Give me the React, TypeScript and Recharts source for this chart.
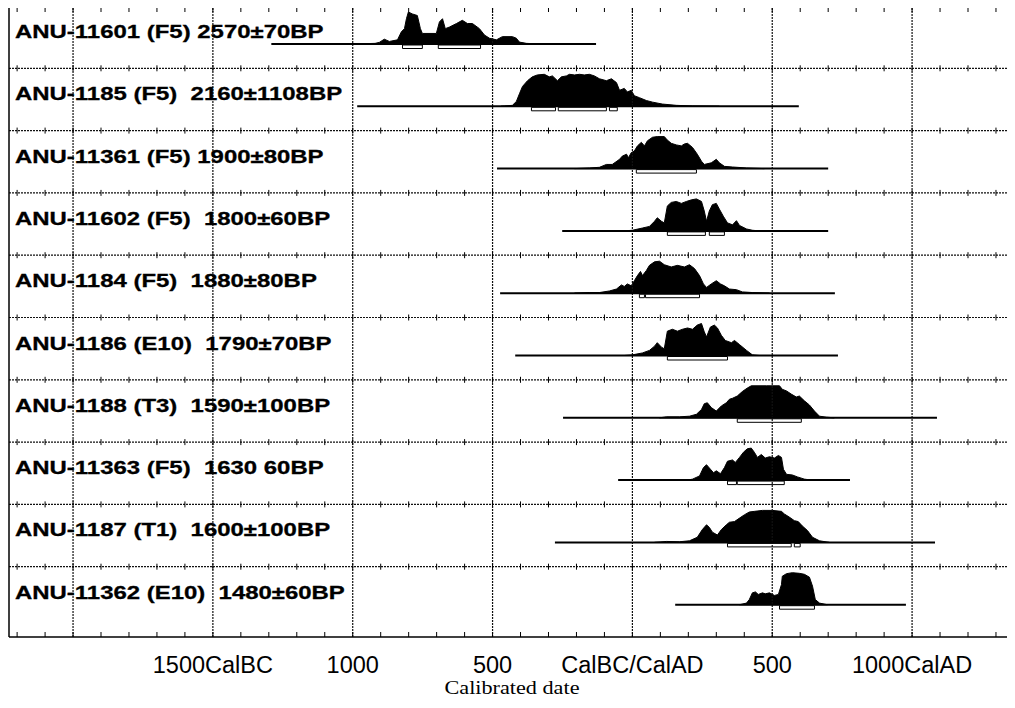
import { ComposedChart, Area, XAxis, YAxis, ReferenceLine, ReferenceArea, Scatter } from 'recharts';

// calibrated years (negative = BC), plot edges
const X_MIN = -2229;
const X_MAX = 1368;

// layout in chart units (reversed y axis, one unit ~ one pixel)
const PLOT_H = 631;
const ROW_H = 62.3;
const BASE_OFFSET = 38;
const PEAK_H = 32;

const GRID_YEARS = [-2000, -1500, -1000, -500, 0, 500, 1000];
const TICK_YEARS = Array.from({ length: 36 }, (_, i) => -2200 + i * 100);

const AXIS_LABELS: Record<number, string> = {
  [-1500]: '1500CalBC',
  [-1000]: '1000',
  [-500]: '500',
  0: 'CalBC/CalAD',
  500: '500',
  1000: '1000CalAD',
};

const SAMPLES = [
  'ANU-11601 (F5) 2570±70BP',
  'ANU-1185 (F5)  2160±1108BP',
  'ANU-11361 (F5) 1900±80BP',
  'ANU-11602 (F5)  1800±60BP',
  'ANU-1184 (F5)  1880±80BP',
  'ANU-1186 (E10)  1790±70BP',
  'ANU-1188 (T3)  1590±100BP',
  'ANU-11363 (F5)  1630 60BP',
  'ANU-1187 (T1)  1600±100BP',
  'ANU-11362 (E10)  1480±60BP',
];

// extent of the plotted baseline for each sample
const SPANS = [
  [-1291, -130], [-984, 595], [-484, 700], [-251, 700], [-473, 724],
  [-419, 735], [-248, 1089], [-51, 778], [-277, 1082], [153, 978],
];

// 68.2% ranges (boxes under the curve)
const RANGES = [
  [[-822, -751], [-694, -543]],
  [[-361, -275], [-265, -93], [-82, -54]],
  [[14, 229]],
  [[125, 261], [275, 329]],
  [[25, 43], [47, 240]],
  [[125, 340]],
  [[375, 604]],
  [[340, 372], [375, 543]],
  [[340, 568], [579, 600]],
  [[526, 651]],
];

// probability distributions: [year, relative probability]
const P_11601 = [[-1000, 0], [-920, 0.02], [-905, 0.05], [-887, 0.15], [-869, 0.08], [-840, 0.13], [-826, 0.38], [-815, 0.48], [-808, 0.79], [-801, 1.0], [-787, 0.94], [-769, 0.89], [-758, 0.48], [-751, 0.33], [-701, 0.33], [-690, 0.69], [-679, 0.79], [-669, 0.48], [-654, 0.53], [-629, 0.64], [-608, 0.74], [-590, 0.64], [-572, 0.64], [-547, 0.48], [-529, 0.28], [-511, 0.18], [-486, 0.13], [-465, 0.23], [-429, 0.23], [-415, 0.18], [-404, 0.06], [-379, 0.02], [-332, 0]];
const P_1185 = [[-470, 0], [-458, 0.01], [-429, 0.03], [-415, 0.15], [-404, 0.39], [-393, 0.62], [-375, 0.8], [-358, 0.92], [-340, 0.98], [-315, 1.0], [-297, 0.92], [-286, 0.95], [-268, 0.8], [-254, 0.92], [-236, 0.95], [-225, 1.0], [-207, 0.98], [-189, 1.0], [-172, 0.98], [-154, 1.0], [-136, 0.95], [-118, 0.86], [-93, 0.8], [-75, 0.86], [-57, 0.74], [-46, 0.5], [-29, 0.56], [-18, 0.45], [-4, 0.5], [7, 0.33], [25, 0.27], [50, 0.18], [72, 0.13], [107, 0.07], [157, 0.03], [215, 0.01], [311, 0]];
const P_11361 = [[-207, 0], [-154, 0.02], [-118, 0.04], [-93, 0.13], [-72, 0.13], [-46, 0.29], [-36, 0.39], [-21, 0.45], [-14, 0.34], [-4, 0.5], [7, 0.55], [18, 0.71], [32, 0.82], [43, 0.71], [54, 0.87], [72, 0.98], [89, 1.0], [114, 1.0], [125, 0.89], [139, 0.79], [157, 0.74], [175, 0.71], [186, 0.77], [197, 0.79], [215, 0.66], [232, 0.45], [247, 0.23], [257, 0.13], [282, 0.18], [300, 0.29], [311, 0.18], [329, 0.07], [358, 0.05], [408, 0.02], [472, 0]];
const P_11602 = [[-29, 0], [0, 0.02], [36, 0.09], [61, 0.14], [79, 0.3], [89, 0.41], [104, 0.3], [114, 0.25], [125, 0.78], [139, 0.89], [157, 0.92], [175, 0.86], [193, 0.92], [211, 0.97], [229, 1.0], [247, 0.92], [257, 0.62], [265, 0.3], [275, 0.62], [286, 0.82], [300, 0.86], [311, 0.68], [325, 0.46], [340, 0.25], [358, 0.19], [372, 0.32], [383, 0.17], [408, 0.06], [429, 0.02], [454, 0]];
const P_1184 = [[-207, 0], [-154, 0.02], [-118, 0.02], [-82, 0.07], [-57, 0.13], [-39, 0.26], [-29, 0.21], [-18, 0.29], [-4, 0.23], [7, 0.39], [18, 0.55], [29, 0.68], [36, 0.55], [50, 0.71], [61, 0.87], [79, 0.98], [97, 1.0], [114, 0.89], [139, 0.82], [161, 0.87], [186, 0.82], [204, 0.89], [222, 0.77], [240, 0.55], [254, 0.29], [265, 0.18], [282, 0.29], [300, 0.39], [315, 0.29], [329, 0.23], [347, 0.13], [372, 0.11], [393, 0.04], [429, 0.02], [490, 0]];
const P_1186 = [[-29, 0], [0, 0.02], [36, 0.08], [61, 0.16], [79, 0.29], [89, 0.4], [104, 0.26], [114, 0.21], [125, 0.76], [143, 0.82], [161, 0.76], [179, 0.82], [197, 0.86], [215, 0.82], [232, 0.95], [247, 1.0], [257, 0.74], [265, 0.58], [279, 0.89], [293, 0.95], [304, 0.86], [318, 0.63], [332, 0.47], [354, 0.4], [365, 0.47], [383, 0.34], [408, 0.16], [429, 0.02], [454, 0]];
const P_1188 = [[97, 0], [122, 0.03], [168, 0.03], [204, 0.05], [229, 0.11], [247, 0.26], [257, 0.44], [268, 0.47], [282, 0.32], [300, 0.21], [318, 0.37], [336, 0.47], [347, 0.58], [358, 0.61], [375, 0.68], [393, 0.82], [411, 0.93], [425, 1.0], [479, 1.0], [526, 1.0], [536, 0.89], [551, 0.84], [568, 0.74], [586, 0.65], [597, 0.68], [615, 0.53], [633, 0.4], [651, 0.21], [669, 0.05], [694, 0.02], [722, 0]];
const P_11363 = [[197, 0], [215, 0.03], [240, 0.13], [254, 0.39], [265, 0.48], [279, 0.34], [290, 0.23], [300, 0.29], [315, 0.2], [329, 0.39], [340, 0.59], [358, 0.63], [368, 0.55], [383, 0.71], [397, 0.87], [411, 0.98], [425, 1.0], [436, 0.87], [447, 0.71], [461, 0.8], [475, 0.69], [490, 0.73], [508, 0.69], [522, 0.77], [533, 0.71], [540, 0.34], [551, 0.18], [572, 0.16], [590, 0.1], [615, 0.03], [640, 0]];
const P_1187 = [[79, 0], [122, 0.03], [168, 0.02], [204, 0.05], [232, 0.16], [250, 0.4], [265, 0.55], [275, 0.47], [286, 0.32], [304, 0.23], [318, 0.4], [336, 0.55], [347, 0.63], [365, 0.65], [383, 0.76], [400, 0.86], [418, 0.95], [436, 0.97], [465, 1.0], [501, 1.0], [533, 0.97], [543, 0.89], [561, 0.79], [579, 0.68], [593, 0.65], [608, 0.51], [626, 0.37], [644, 0.16], [669, 0.05], [704, 0]];
const P_11362 = [[383, 0], [408, 0.05], [418, 0.16], [429, 0.37], [440, 0.4], [450, 0.32], [465, 0.37], [475, 0.34], [490, 0.37], [508, 0.29], [522, 0.32], [533, 0.63], [536, 0.89], [551, 0.97], [572, 1.0], [597, 0.98], [615, 0.95], [633, 0.86], [644, 0.58], [654, 0.16], [669, 0.05], [697, 0]];

const DISTS = [P_11601, P_1185, P_11361, P_11602, P_1184, P_1186, P_1188, P_11363, P_1187, P_11362];

const rows = SAMPLES.map((label, k) => ({
  label,
  top: k * ROW_H,
  base: k * ROW_H + BASE_OFFSET,
  span: SPANS[k],
  ranges: RANGES[k],
  data: DISTS[k].map(([x, p]) => ({ x, p })),
}));

const rowTicks = rows.flatMap((r, k) => TICK_YEARS.map(x => ({ x, y: r.top, top: k === 0 })));
const labelPoints = rows.map(r => ({ x: X_MIN, y: r.top + 32, label: r.label }));

const SANS = "'Liberation Sans', Arial, Helvetica, sans-serif";

function AxisTick(props: any) {
  const { x, y, payload } = props;
  const text = AXIS_LABELS[payload.value];
  return (
    <g>
      <line x1={x} x2={x} y1={y} y2={y - 5} stroke="#000" strokeWidth={1} />
      {text && (
        <text x={x} y={y + 36} textAnchor="middle" fontFamily={SANS} fontSize={23.5} fill="#000">
          {text}
        </text>
      )}
    </g>
  );
}

function AxisTitle(props: any) {
  const { x, y, width } = props.viewBox;
  return (
    <text
      x={x + width / 2}
      y={y + 57}
      textAnchor="middle"
      fontFamily="'Liberation Serif', 'Times New Roman', serif"
      fontSize={18}
      textLength={135}
      lengthAdjust="spacingAndGlyphs"
      fill="#000"
    >
      Calibrated date
    </text>
  );
}

function GridTick(props: any) {
  const { cx, cy, payload } = props;
  return payload.top
    ? <line x1={cx} x2={cx} y1={cy} y2={cy + 6} stroke="#000" strokeWidth={1} />
    : <line x1={cx} x2={cx} y1={cy - 3} y2={cy + 3} stroke="#000" strokeWidth={1} />;
}

function RowLabel(props: any) {
  const { cx, cy, payload } = props;
  return (
    <text
      transform={`translate(${cx + 6} ${cy}) scale(1.26 1)`}
      fontFamily={SANS}
      fontWeight="bold"
      fontSize={19}
      fill="#000"
      stroke="#000"
      strokeWidth={0.3}
      style={{ whiteSpace: 'pre' }}
    >
      {payload.label}
    </text>
  );
}

export default function App() {
  return (
    <div style={{ margin: '-8px 0 0 -8px', width: 1015, height: 700, background: '#fff' }}>
      <ComposedChart width={1015} height={700} margin={{ top: 6, right: 0, left: 9, bottom: 0 }}>
        <XAxis
          type="number"
          dataKey="x"
          domain={[X_MIN, X_MAX]}
          allowDataOverflow
          ticks={TICK_YEARS}
          interval={0}
          tickSize={0}
          tickMargin={0}
          tickLine={false}
          tick={<AxisTick />}
          height={63}
          axisLine={{ stroke: '#000', strokeWidth: 1.5 }}
          label={<AxisTitle />}
        />
        <YAxis type="number" dataKey="y" domain={[0, PLOT_H]} reversed hide allowDataOverflow />

        {GRID_YEARS.map(x => (
          <ReferenceLine key={`g${x}`} x={x} stroke="#111" strokeDasharray="2 1" strokeWidth={1.2} />
        ))}
        {rows.map(r => (
          <ReferenceLine key={`h${r.top}`} y={r.top} stroke="#111" strokeDasharray="2 1" strokeWidth={1.2} />
        ))}
        <ReferenceLine x={X_MIN} stroke="#000" strokeWidth={1.5} />

        {rows.map(r => (
          <Area
            key={`a${r.label}`}
            data={r.data}
            dataKey={(d: any) => [r.base, r.base - d.p * PEAK_H]}
            type="linear"
            stroke="#000"
            strokeWidth={1}
            fill="#000"
            fillOpacity={1}
            dot={false}
            activeDot={false}
            isAnimationActive={false}
          />
        ))}
        {rows.map(r => (
          <ReferenceLine
            key={`b${r.label}`}
            segment={[{ x: r.span[0], y: r.base }, { x: r.span[1], y: r.base }]}
            stroke="#000"
            strokeWidth={2}
          />
        ))}
        {rows.flatMap(r =>
          r.ranges.map(([x1, x2]) => (
            <ReferenceArea
              key={`r${r.label}${x1}`}
              x1={x1}
              x2={x2}
              y1={r.base + 1}
              y2={r.base + 4.5}
              fill="#fff"
              fillOpacity={1}
              stroke="#000"
              strokeWidth={1}
            />
          ))
        )}

        <Scatter data={rowTicks} shape={<GridTick />} isAnimationActive={false} />
        <Scatter data={labelPoints} shape={<RowLabel />} isAnimationActive={false} />
      </ComposedChart>
    </div>
  );
}
